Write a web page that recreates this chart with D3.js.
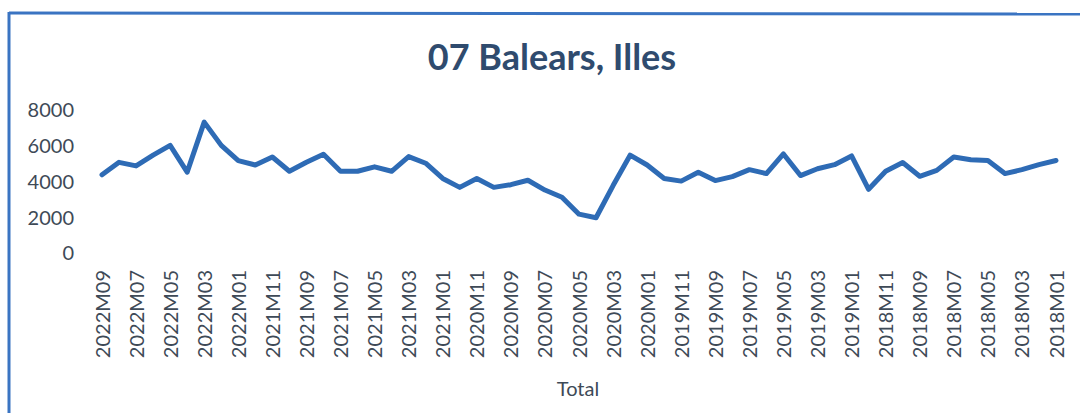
<!DOCTYPE html>
<html lang="en">
<head>
    <meta charset="UTF-8">
    <title>07 Balears, Illes</title>
    <script src="https://cdnjs.cloudflare.com/ajax/libs/d3/7.8.5/d3.min.js"></script>
    <style>
        body {
            margin: 0;
            background-color: #fff;
            font-family: Lato, "Open Sans", sans-serif;
        }
        .tick text {
            fill: #3e4a57;
            font-size: 20px;
            font-family: Lato, "Open Sans", sans-serif;
        }
    </style>
</head>
<body>
    <div id="chart"></div>
    <script>
        // Months, newest first (as in the source table)
        const months = [
            "2022M09", "2022M08", "2022M07", "2022M06", "2022M05", "2022M04", "2022M03", "2022M02", "2022M01",
            "2021M12", "2021M11", "2021M10", "2021M09", "2021M08", "2021M07", "2021M06", "2021M05", "2021M04", "2021M03", "2021M02", "2021M01",
            "2020M12", "2020M11", "2020M10", "2020M09", "2020M08", "2020M07", "2020M06", "2020M05", "2020M04", "2020M03", "2020M02", "2020M01",
            "2019M12", "2019M11", "2019M10", "2019M09", "2019M08", "2019M07", "2019M06", "2019M05", "2019M04", "2019M03", "2019M02", "2019M01",
            "2018M12", "2018M11", "2018M10", "2018M09", "2018M08", "2018M07", "2018M06", "2018M05", "2018M04", "2018M03", "2018M02", "2018M01"
        ];

        // Total
        const totals = [
            4400, 5100, 4900, 5500, 6050, 4550, 7350, 6050, 5200,
            4950, 5400, 4600, 5100, 5550, 4600, 4600, 4850, 4600, 5420, 5050, 4200,
            3700, 4200, 3700, 3850, 4100, 3550, 3150, 2200, 2000, 3800, 5500, 4950,
            4200, 4050, 4550, 4080, 4300, 4690, 4470, 5570, 4360, 4740, 4970, 5460,
            3590, 4600, 5090, 4320, 4650, 5400, 5240, 5200, 4470, 4690, 4970, 5200
        ];

        const yTicks = [0, 2000, 4000, 6000, 8000];
        const xTickLabels = months.filter((m, i) => i % 2 === 0);

        const width = 1080;
        const height = 413;

        const svg = d3.select("#chart")
            .append("svg")
            .attr("width", width)
            .attr("height", height);

        // chart border (only top and left show in the scan)
        svg.append("line")
            .attr("x1", 9).attr("y1", 13).attr("x2", 1080).attr("y2", 14)
            .attr("stroke", "#3a74c2").attr("stroke-width", 3);
        svg.append("line")
            .attr("x1", 9).attr("y1", 12).attr("x2", 9).attr("y2", 413)
            .attr("stroke", "#3a74c2").attr("stroke-width", 3);

        const x = d3.scalePoint()
            .domain(months)
            .range([102, 1056]);

        const y = d3.scaleLinear()
            .domain([0, 8000])
            .range([253.5, 110.5]);

        // title
        svg.append("text")
            .attr("x", 552)
            .attr("y", 70)
            .attr("text-anchor", "middle")
            .attr("font-size", 36)
            .attr("font-weight", "bold")
            .attr("fill", "#2f4b6e")
            .text("07 Balears, Illes");

        // y axis
        const yAxis = svg.append("g")
            .attr("transform", "translate(74,0)")
            .call(d3.axisLeft(y).tickValues(yTicks).tickSize(0).tickPadding(0).tickFormat(d3.format("d")));
        yAxis.select(".domain").remove();

        // x axis
        const xAxis = svg.append("g")
            .attr("transform", "translate(0,267)")
            .call(d3.axisBottom(x).tickValues(xTickLabels).tickSize(0).tickPadding(0));
        xAxis.select(".domain").remove();
        xAxis.selectAll("text")
            .attr("transform", "rotate(-90)")
            .attr("text-anchor", "end")
            .attr("x", 0)
            .attr("y", 0)
            .attr("dx", "-3")
            .attr("dy", "0.35em");

        // axis title
        svg.append("text")
            .attr("x", 578)
            .attr("y", 396)
            .attr("text-anchor", "middle")
            .attr("font-size", 20)
            .attr("fill", "#3e4a57")
            .text("Total");

        // line
        const line = d3.line()
            .x((d, i) => x(months[i]))
            .y(d => y(d));

        svg.append("path")
            .datum(totals)
            .attr("fill", "none")
            .attr("stroke", "#2e6bb5")
            .attr("stroke-width", 5)
            .attr("stroke-linejoin", "round")
            .attr("stroke-linecap", "round")
            .attr("d", line);
    </script>
</body>
</html>
